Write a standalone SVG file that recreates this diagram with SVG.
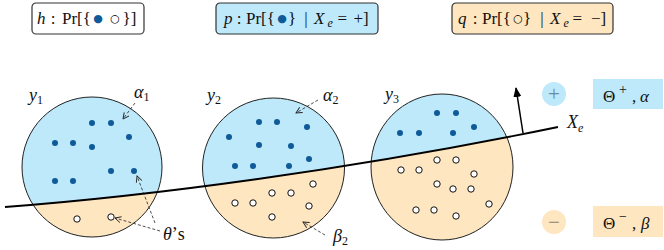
<svg xmlns="http://www.w3.org/2000/svg" width="664" height="250" viewBox="0 0 664 250">
<style>
.t{font-family:"Liberation Serif","DejaVu Serif",serif;font-size:17px;fill:#111}
.L{font-size:18px}
.i{font-style:italic}
.n{font-style:normal}
.sub{font-size:12px;font-style:normal}
.sym{font-family:"DejaVu Sans",sans-serif;font-size:11px;text-anchor:middle}
.box{stroke:#333;stroke-width:1.2}
.blue{fill:#bde9fb}
.beige{fill:#fde6c0}
.ring{fill:none;stroke:#222;stroke-width:1}
.d{fill:#0f5a98}
.o{fill:#fff;stroke:#111;stroke-width:1}
.dash{fill:none;stroke:#222;stroke-width:0.8;stroke-dasharray:3,2}
</style>
<defs>
<marker id="ah" viewBox="0 0 8 8" refX="7" refY="4" markerWidth="8" markerHeight="8" markerUnits="userSpaceOnUse" orient="auto">
<path d="M1,1 L7,4 L1,7" fill="none" stroke="#222" stroke-width="0.9"/>
</marker>
<marker id="ahs" viewBox="0 0 10 10" refX="9" refY="5" markerWidth="10" markerHeight="10" markerUnits="userSpaceOnUse" orient="auto">
<path d="M0,1 L10,5 L0,9 Z" fill="#000"/>
</marker>
<clipPath id="c1"><ellipse cx="92" cy="167" rx="70" ry="70"/></clipPath>
<clipPath id="c2"><ellipse cx="273.5" cy="168" rx="71" ry="70"/></clipPath>
<clipPath id="c3"><ellipse cx="442" cy="167" rx="71" ry="73"/></clipPath>
<path id="below" d="M5,207 C150,196 350,170 558,127 L600,127 L600,260 L0,260 Z"/>
</defs>

<g id="box-h">
<rect class="box" x="32" y="3" width="112" height="31" rx="4" fill="#fff"/>
<text class="t" y="24"><tspan class="i" x="37">h</tspan><tspan x="50.7">:</tspan><tspan x="62">Pr[{</tspan><tspan x="122.5">}]</tspan></text>
<text class="sym" x="98" y="22" fill="#0f5a98">●</text>
<text class="sym" x="115" y="22">○</text>
</g>
<g id="box-p">
<rect class="box blue" x="216" y="3" width="162" height="31" rx="4"/>
<text class="t" y="24"><tspan class="i" x="224">p</tspan><tspan x="236.7">:</tspan><tspan x="246">Pr[{</tspan><tspan x="288">}</tspan><tspan x="304.3">|</tspan><tspan class="i" x="314">X</tspan><tspan class="i" x="327.5" font-size="12" dy="3">e</tspan><tspan x="337.5" dy="-3">=</tspan><tspan x="353.5">+]</tspan></text>
<text class="sym" x="282" y="22" fill="#0f5a98">●</text>
</g>
<g id="box-q">
<rect class="box beige" x="452" y="3" width="161" height="31" rx="4"/>
<text class="t" y="24"><tspan class="i" x="458">q</tspan><tspan x="472.7">:</tspan><tspan x="482">Pr[{</tspan><tspan x="523">}</tspan><tspan x="540.3">|</tspan><tspan class="i" x="550">X</tspan><tspan class="i" x="563.5" font-size="12" dy="3">e</tspan><tspan x="572.5" dy="-3">=</tspan><tspan x="591">−]</tspan></text>
<text class="sym" x="518" y="22">○</text>
</g>

<g id="node-y1">
<ellipse class="blue" cx="92" cy="167" rx="70" ry="70"/>
<use href="#below" class="beige" clip-path="url(#c1)"/>
<ellipse class="ring" cx="92" cy="167" rx="70" ry="70"/>
<g class="d">
<circle cx="92" cy="123" r="3"/><circle cx="111" cy="123" r="3"/><circle cx="129" cy="137" r="3"/>
<circle cx="55" cy="143" r="3"/><circle cx="73" cy="143" r="3"/><circle cx="92" cy="147" r="3"/>
<circle cx="111" cy="171" r="3"/><circle cx="134" cy="171" r="3"/>
<circle cx="55" cy="181" r="3"/><circle cx="73" cy="181" r="3"/>
</g>
<g class="o"><circle cx="77" cy="219" r="3.2"/><circle cx="111" cy="217" r="3.2"/></g>
<text class="t L i" x="29" y="101">y<tspan class="sub" dy="3">1</tspan></text>
</g>

<g id="node-y2">
<ellipse class="blue" cx="273.5" cy="168" rx="71" ry="70"/>
<use href="#below" class="beige" clip-path="url(#c2)"/>
<ellipse class="ring" cx="273.5" cy="168" rx="71" ry="70"/>
<g class="d">
<circle cx="259" cy="122" r="3"/><circle cx="277" cy="122" r="3"/><circle cx="307" cy="127" r="3"/>
<circle cx="229" cy="137" r="3"/><circle cx="259" cy="145" r="3"/><circle cx="291" cy="146" r="3"/>
<circle cx="309" cy="159" r="3"/><circle cx="235" cy="166" r="3"/><circle cx="253" cy="166" r="3"/><circle cx="289" cy="166" r="3"/>
</g>
<g class="o">
<circle cx="313" cy="184" r="3.2"/><circle cx="272" cy="193" r="3.2"/><circle cx="291" cy="193" r="3.2"/>
<circle cx="235" cy="203" r="3.2"/><circle cx="253" cy="203" r="3.2"/><circle cx="309" cy="206" r="3.2"/><circle cx="272" cy="217" r="3.2"/>
</g>
<text class="t L i" x="207" y="101">y<tspan class="sub" dy="3">2</tspan></text>
</g>

<g id="node-y3">
<ellipse class="blue" cx="442" cy="167" rx="71" ry="73"/>
<use href="#below" class="beige" clip-path="url(#c3)"/>
<ellipse class="ring" cx="442" cy="167" rx="71" ry="73"/>
<g class="d">
<circle cx="437" cy="113" r="3"/><circle cx="456" cy="113" r="3"/><circle cx="474" cy="127" r="3"/>
<circle cx="400" cy="133" r="3"/><circle cx="419" cy="133" r="3"/><circle cx="453" cy="133" r="3"/>
</g>
<g class="o">
<circle cx="437" cy="160" r="3.2"/><circle cx="456" cy="160" r="3.2"/><circle cx="401" cy="170" r="3.2"/><circle cx="419" cy="170" r="3.2"/>
<circle cx="474" cy="174" r="3.2"/><circle cx="437" cy="184" r="3.2"/><circle cx="453" cy="189" r="3.2"/><circle cx="471" cy="189" r="3.2"/>
<circle cx="489" cy="204" r="3.2"/><circle cx="416" cy="210" r="3.2"/><circle cx="434" cy="210" r="3.2"/><circle cx="456" cy="216" r="3.2"/>
</g>
<text class="t L i" x="385" y="100">y<tspan class="sub" dy="3">3</tspan></text>
</g>

<g id="separator-Xe">
<path d="M5,207 C150,196 350,170 558,127" fill="none" stroke="#000" stroke-width="1.8"/>
<text class="t L i" x="567" y="128">X<tspan font-size="12" dy="4">e</tspan></text>
</g>

<g id="labels">
<text class="t L i" x="134" y="98">α<tspan class="sub" dy="3">1</tspan></text>
<text class="t L i" x="323" y="101">α<tspan class="sub" dy="3">2</tspan></text>
<text class="t L i" x="163" y="240">θ<tspan class="n">’s</tspan></text>
<text class="t L i" x="333" y="242">β<tspan class="sub" dy="3">2</tspan></text>
</g>

<g id="legend-plus">
<circle cx="554" cy="94" r="12" fill="#bde9fb"/>
<text x="554" y="101" text-anchor="middle" font-family="Liberation Serif,serif" font-size="21" fill="#6a8ba3">+</text>
<rect x="593" y="79" width="70" height="30" fill="#bde9fb"/>
<text class="t" y="102" font-size="21"><tspan x="603">Θ</tspan><tspan x="619" dy="-8" font-size="14">+</tspan><tspan x="632" dy="8">,</tspan><tspan class="i" x="640">α</tspan></text>
</g>
<g id="legend-minus">
<circle cx="554" cy="222" r="12" fill="#fde6c0"/>
<text x="554" y="229" text-anchor="middle" font-family="Liberation Serif,serif" font-size="21" fill="#8d8370">−</text>
<rect x="593" y="206" width="70" height="31" fill="#fde6c0"/>
<text class="t" y="229" font-size="21"><tspan x="603">Θ</tspan><tspan x="619" dy="-8" font-size="14">−</tspan><tspan x="632" dy="8">,</tspan><tspan class="i" x="641">β</tspan></text>
</g>

<g id="connectors">
<path class="dash" d="M135,103 L123,119" marker-end="url(#ah)"/>
<path class="dash" d="M318,100 L296,113" marker-end="url(#ah)"/>
<path class="dash" d="M160,231 L115,218" marker-end="url(#ah)"/>
<path class="dash" d="M155,223 L137,176" marker-end="url(#ah)"/>
<path class="dash" d="M325,235 L303,222" marker-end="url(#ah)"/>
<path d="M523,133 L516,88" fill="none" stroke="#000" stroke-width="1.5" marker-end="url(#ahs)"/>
</g>
</svg>
